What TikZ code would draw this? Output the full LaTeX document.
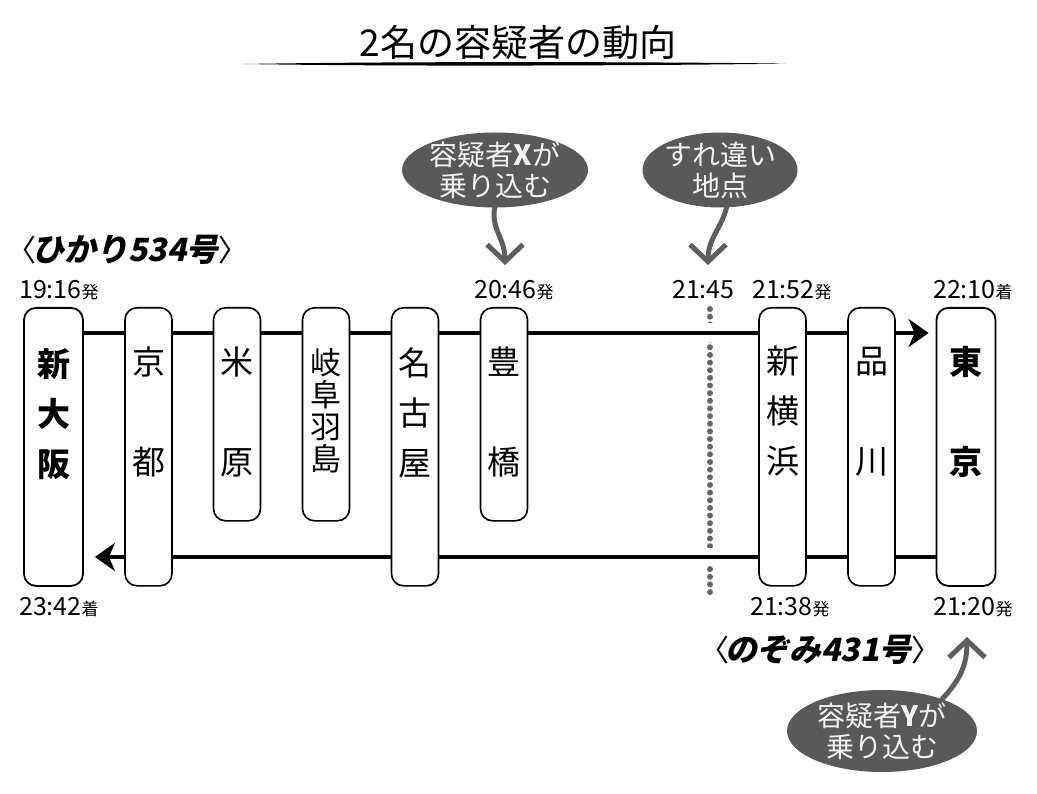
\documentclass[tikz,border=0pt]{standalone}
\usepackage{fontspec}
\usetikzlibrary{arrows.meta,shapes.geometric}
\newfontfamily\jp{Noto Sans CJK JP}
\newfontfamily\jpit[FakeSlant=0.2]{Noto Sans CJK JP}
\definecolor{bubblecol}{HTML}{595959}
\definecolor{bubtext}{HTML}{F2F2F2}
\definecolor{dotgray}{HTML}{666666}
\definecolor{arrowcol}{HTML}{5E5E5E}
\newcommand\hatsu{{\fontsize{17}{17}\selectfont 発}}
\newcommand\chaku{{\fontsize{17}{17}\selectfont 着}}
\pgfdeclarelayer{bg}\pgfsetlayers{bg,main}
\begin{document}
\begin{tikzpicture}[x=1pt,y=-1pt,
  station/.style={draw=black, line width=1.6pt, fill=white, rounded corners=12pt,
    minimum width=47pt, inner sep=0pt, anchor=north},
  tallbox/.style={station, minimum height=278pt},
  shortbox/.style={station, minimum height=213pt},
  wide/.style={minimum width=59pt},
  stname/.style={font=\jp\fontsize{33}{50}\selectfont, align=center, inner sep=0pt},
  stnamewide/.style={font=\jp\fontsize{33}{100}\selectfont, align=center, inner sep=0pt},
  stnamebold/.style={font=\jp\bfseries\fontsize{33}{50}\selectfont, align=center, inner sep=0pt},
  time/.style={font=\jp\fontsize{25}{25}\selectfont, anchor=base west, inner sep=0pt},
  bubble/.style={ellipse, fill=bubblecol, text=bubtext, inner xsep=-3pt, inner ysep=-12pt,
    align=center, font=\jp\fontsize{28}{31}\selectfont},
  callout/.style={draw=arrowcol, line width=5pt, line cap=round,
    -{Straight Barb[length=17pt,width=36pt]}},
  mainline/.style={line width=4.8pt, -{Stealth[length=20pt,width=28pt,inset=6pt]}},
  trainlbl/.style={anchor=west, inner sep=0pt}
]
\useasboundingbox (0,0) rectangle (1037,794);

% title
\node[font=\jp\fontsize{37}{37}\selectfont, inner sep=0pt] (title) at (518,42) {2名の容疑者の動向};
\fill[black] (244,64) .. controls (400,61.3) and (650,61.8) .. (786,63.6)
  .. controls (650,65.6) and (400,66.6) .. (244,64) -- cycle;

% stations
\node[tallbox,wide,line width=1.8pt] (osaka) at (53.5,307) {};
\node[tallbox] (kyoto) at (148.5,307) {};
\node[shortbox] (maibara) at (237,307) {};
\node[shortbox] (gifu) at (326,307) {};
\node[tallbox] (nagoya) at (415,307) {};
\node[shortbox] (toyo) at (504,307) {};
\node[tallbox] (shinyoko) at (782.5,307) {};
\node[tallbox] (shinagawa) at (871.5,307) {};
\node[tallbox,wide,line width=1.8pt] (tokyo) at (966,307) {};

\node[stnamebold] (l-osaka) at (53.5,414) {新\\大\\阪};
\node[stnamewide] (l-kyoto) at (148.5,412) {京\\都};
\node[stnamewide] (l-maibara) at (237,412) {米\\原};
\node[font=\jp\fontsize{31}{32}\selectfont, align=center, inner sep=0pt] (l-gifu) at (326,411) {岐\\阜\\羽\\島};
\node[stname] (l-nagoya) at (415,413) {名\\古\\屋};
\node[stnamewide] (l-toyo) at (504,412) {豊\\橋};
\node[stname] (l-shinyoko) at (782.5,411) {新\\横\\浜};
\node[stnamewide] (l-shinagawa) at (871.5,412) {品\\川};
\node[stnamewide,font=\jp\bfseries\fontsize{33}{100}\selectfont] (l-tokyo) at (966,412) {東\\京};

% lines behind boxes
\begin{pgfonlayer}{bg}
\fill[white] (0,0) rectangle (1037,794);
\foreach \i in {0,...,37} {\fill[dotgray] (710,309+\i*7.65) circle (3pt);}
\fill[white] (700,323) rectangle (720,342);
\fill[white] (700,548) rectangle (720,566);
\draw[mainline, shorten >=7pt] (osaka.east |- 0,333) -- (tokyo.west |- 0,333);
\draw[mainline, shorten >=11pt] (tokyo.west |- 0,557) -- (osaka.east |- 0,557);
\end{pgfonlayer}

% times
\node[time] (t1916) at (19,299) {19:16\hatsu};
\node[time] (t2046) at (474,299) {20:46\hatsu};
\node[time] (t2145) at (672,299) {21:45};
\node[time] (t2152) at (752,299) {21:52\hatsu};
\node[time] (t2210) at (933,299) {22:10\chaku};
\node[time] (t2342) at (19,615) {23:42\chaku};
\node[time] (t2138) at (750,615) {21:38\hatsu};
\node[time] (t2120) at (933,615) {21:20\hatsu};

% train names
\node[trainlbl] (hikari) at (6,250) {{\jp\fontsize{30}{30}\selectfont 〈}\kern-4pt{\jpit\bfseries\fontsize{32}{32}\selectfont ひかり534号}{\jp\fontsize{30}{30}\selectfont 〉}};
\node[trainlbl] (nozomi) at (699,650) {{\jp\fontsize{30}{30}\selectfont 〈}\kern-4pt{\jpit\bfseries\fontsize{32}{32}\selectfont のぞみ431号}{\jp\fontsize{30}{30}\selectfont 〉}};

% bubbles
\node[bubble, minimum width=186pt, minimum height=75pt] (bx) at (495,170) {容疑者{\bfseries X}が\\乗り込む};
\node[bubble, minimum width=155pt, minimum height=75pt] (bm) at (720,170) {すれ違い\\地点};
\node[bubble, minimum width=190pt, minimum height=82pt] (by) at (882,731) {容疑者{\bfseries Y}が\\乗り込む};

\coordinate (tipX) at (505,265);
\coordinate (tipM) at (708,265);
\coordinate (tipY) at (967,637);
\draw[callout] ([yshift=2pt]bx.south) .. controls (490,228) and (505,238) .. (tipX);
\draw[callout] ([xshift=7pt,yshift=2pt]bm.south) .. controls (722,228) and (708,238) .. (tipM);
\draw[callout] (by.28) .. controls (960,680) and (967,665) .. (tipY);
\end{tikzpicture}
\end{document}
